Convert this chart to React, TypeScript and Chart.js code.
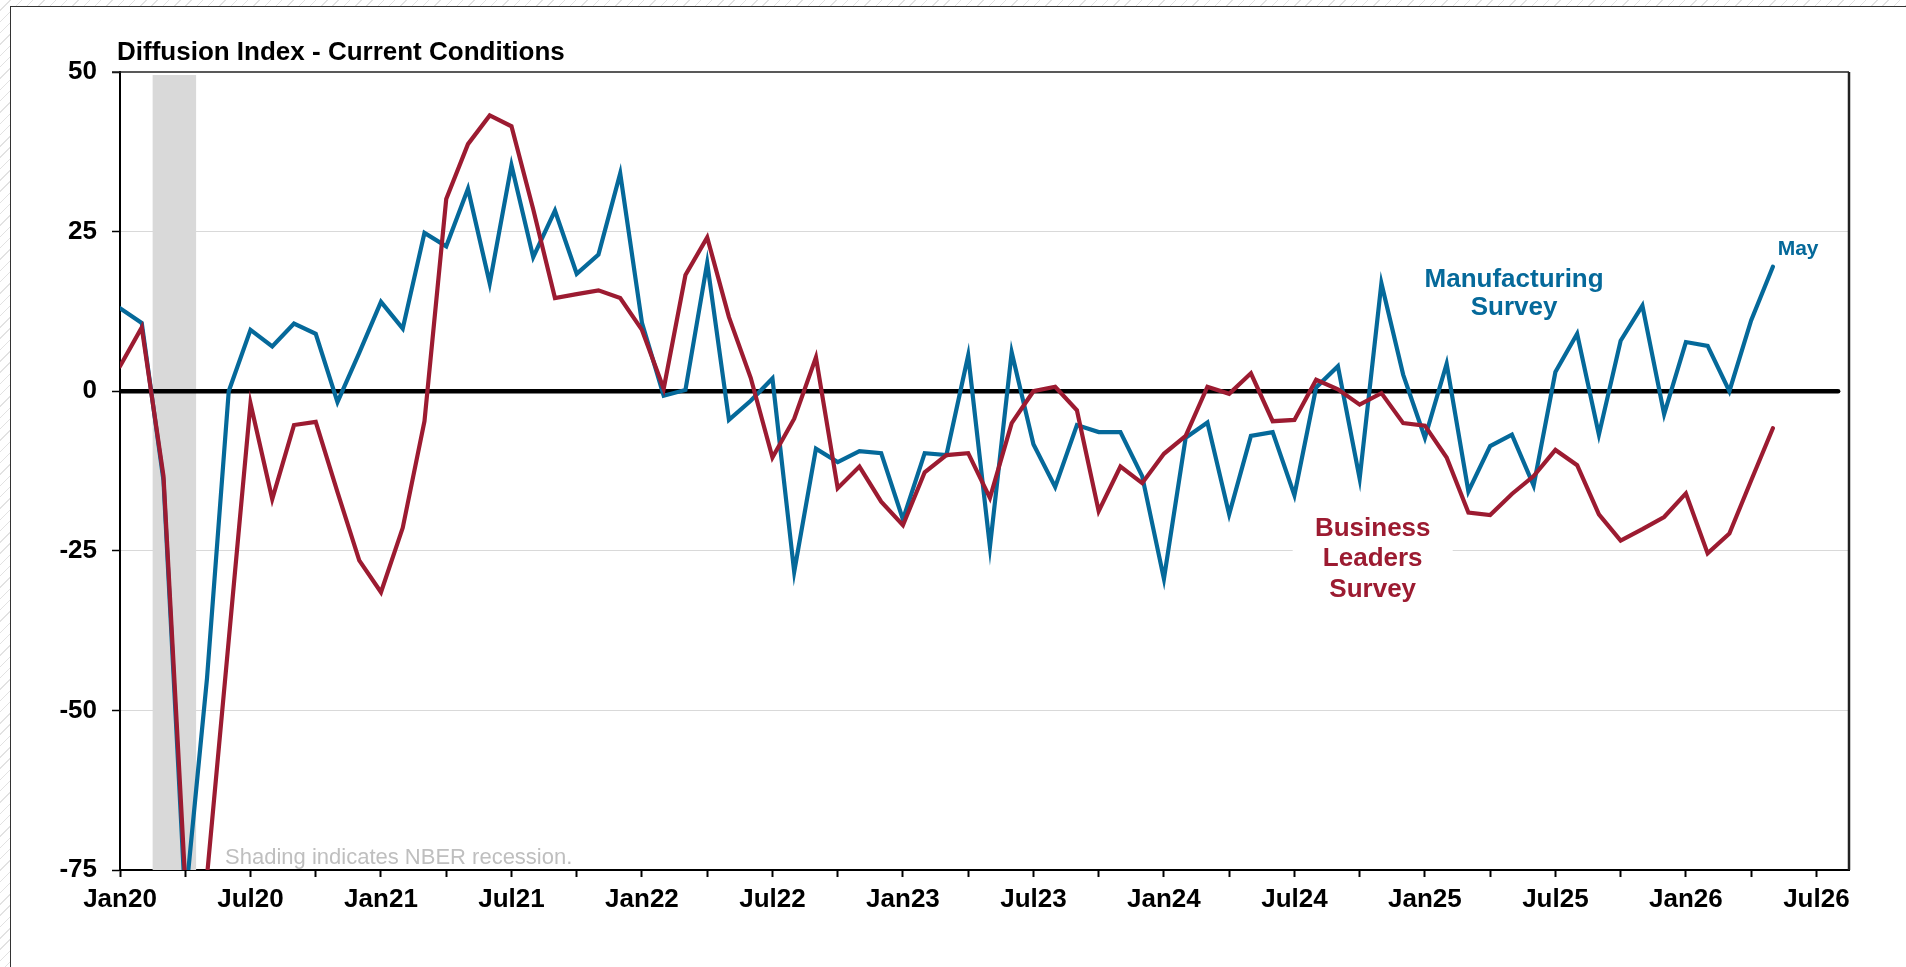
import React, { useEffect, useRef } from "react";
import { Chart, registerables } from "chart.js";

Chart.register(...registerables);

// ---------------- data ----------------
const months = [
  "Jan20", "Feb20", "Mar20", "Apr20", "May20", "Jun20", "Jul20", "Aug20", "Sep20", "Oct20", "Nov20", "Dec20",
  "Jan21", "Feb21", "Mar21", "Apr21", "May21", "Jun21", "Jul21", "Aug21", "Sep21", "Oct21", "Nov21", "Dec21",
  "Jan22", "Feb22", "Mar22", "Apr22", "May22", "Jun22", "Jul22", "Aug22", "Sep22", "Oct22", "Nov22", "Dec22",
  "Jan23", "Feb23", "Mar23", "Apr23", "May23", "Jun23", "Jul23", "Aug23", "Sep23", "Oct23", "Nov23", "Dec23",
  "Jan24", "Feb24", "Mar24", "Apr24", "May24", "Jun24", "Jul24", "Aug24", "Sep24", "Oct24", "Nov24", "Dec24",
  "Jan25", "Feb25", "Mar25", "Apr25", "May25", "Jun25", "Jul25", "Aug25", "Sep25", "Oct25", "Nov25", "Dec25",
  "Jan26", "Feb26", "Mar26", "Apr26", "May26",
];

const manufacturing = [
  13.0, 10.7, -14.0, -80.0, -45.0, 0.0, 9.6, 7.0, 10.6, 9.0, -1.7, 6.0,
  14.0, 9.8, 24.8, 22.7, 31.7, 16.9, 35.4, 21.0, 28.3, 18.4, 21.4, 34.1,
  10.7, -0.7, 0.2, 20.1, -4.5, -1.5, 2.0, -28.3, -9.0, -11.1, -9.4, -9.7,
  -20.1, -9.7, -10.0, 5.6, -24.4, 6.1, -8.3, -15.0, -5.3, -6.4, -6.4, -13.3,
  -29.4, -7.3, -4.9, -19.3, -7.0, -6.4, -16.3, 0.6, 3.9, -13.7, 16.9, 2.6,
  -7.3, 4.3, -15.7, -8.6, -6.8, -14.8, 3.0, 9.0, -6.8, 7.9, 13.4, -3.6,
  7.7, 7.1, 0.0, 11.1, 19.5,
];

const businessLeaders = [
  3.9, 10.0, -13.3, -77.0, -76.0, -39.0, -1.9, -16.9, -5.3, -4.8, -15.8, -26.5,
  -31.5, -21.4, -4.7, 30.1, 38.7, 43.2, 41.5, 28.5, 14.6, 15.2, 15.8, 14.6,
  9.6, 0.4, 18.2, 24.1, 11.6, 2.1, -10.4, -4.3, 5.3, -15.2, -11.8, -17.3,
  -21.0, -12.7, -10.0, -9.7, -16.7, -5.0, 0.0, 0.7, -3.0, -18.8, -11.8, -14.4,
  -9.8, -7.0, 0.7, -0.4, 2.8, -4.7, -4.5, 1.8, 0.3, -2.1, -0.3, -5.0,
  -5.4, -10.4, -19.0, -19.4, -16.1, -13.3, -9.2, -11.6, -19.3, -23.4, -21.6, -19.7,
  -16.0, -25.4, -22.3, -14.0, -5.8,
];

const xTickLabels = [
  "Jan20", "Jul20", "Jan21", "Jul21", "Jan22", "Jul22", "Jan23",
  "Jul23", "Jan24", "Jul24", "Jan25", "Jul25", "Jan26", "Jul26",
];
const yTickValues = [50, 25, 0, -25, -50, -75];
const yGridValues = [25, -25, -50];

// recession shading (month positions, Jan20 = 0)
const recessionStart = 1.5;
const recessionEnd = 3.5;
// zero reference line span (month positions)
const zeroLineSpan = [0, 79];
const xMin = 0;
const xMax = 79.5;

// ---------------- styles ----------------
const BLUE = "#05699A";
const RED = "#9C1B31";
const FONT = '"Liberation Sans", Arial, Helvetica, sans-serif';

type Note = { lines: string[]; x: number; y: number[]; color: string; size: number; weight: string };
const notes: Note[] = [
  { lines: ["May"], x: 77.16, y: [21.35], color: BLUE, size: 21, weight: "bold" },
  { lines: ["Manufacturing", "Survey"], x: 64.1, y: [16.3, 11.9], color: BLUE, size: 26, weight: "bold" },
  { lines: ["Business", "Leaders", "Survey"], x: 57.6, y: [-22.7, -27.4, -32.2], color: RED, size: 26, weight: "bold" },
];

export default function App() {
  const ref = useRef<HTMLCanvasElement | null>(null);

  useEffect(() => {
    const canvas = ref.current;
    if (!canvas) return;

    const decor = {
      id: "decor",
      beforeDatasetsDraw(chart: any) {
        const { ctx, chartArea, scales } = chart;
        const xs = scales.x;
        const ys = scales.y;
        ctx.save();
        // recession band
        ctx.fillStyle = "#D9D9D9";
        const bx1 = xs.getPixelForValue(recessionStart);
        const bx2 = xs.getPixelForValue(recessionEnd);
        ctx.fillRect(bx1, chartArea.top + 3, bx2 - bx1, chartArea.bottom - chartArea.top - 3);
        // white box behind Business Leaders label
        const bl = notes[2];
        const cx = xs.getPixelForValue(bl.x);
        const y1 = ys.getPixelForValue(bl.y[0]) - 28;
        const y2 = ys.getPixelForValue(bl.y[bl.y.length - 1]) + 10;
        ctx.fillStyle = "#FFFFFF";
        ctx.fillRect(cx - 80, y1, 160, y2 - y1);
        ctx.restore();
      },
      afterDatasetsDraw(chart: any) {
        const { ctx, scales, chartArea } = chart;
        const xs = scales.x;
        const ys = scales.y;
        ctx.save();
        ctx.textAlign = "center";
        ctx.textBaseline = "alphabetic";
        for (const n of notes) {
          ctx.font = `${n.weight} ${n.size}px ${FONT}`;
          ctx.fillStyle = n.color;
          const px = xs.getPixelForValue(n.x);
          n.lines.forEach((t, i) => ctx.fillText(t, px, ys.getPixelForValue(n.y[i])));
        }
        // shading note
        ctx.textAlign = "left";
        ctx.font = `22px ${FONT}`;
        ctx.fillStyle = "#BFBFBF";
        ctx.fillText("Shading indicates NBER recession.", xs.getPixelForValue(4.83), chartArea.bottom - 6);
        ctx.restore();
      },
      afterDraw(chart: any) {
        const { ctx, chartArea } = chart;
        ctx.save();
        // top and right borders of plot area
        ctx.strokeStyle = "#222";
        ctx.lineWidth = 1.5;
        ctx.beginPath();
        ctx.moveTo(chartArea.left - 8, chartArea.top);
        ctx.lineTo(chartArea.right, chartArea.top);
        ctx.stroke();
        ctx.lineWidth = 2.5;
        ctx.beginPath();
        ctx.moveTo(chartArea.right, chartArea.top);
        ctx.lineTo(chartArea.right, chartArea.bottom);
        ctx.stroke();
        // title
        ctx.fillStyle = "#000";
        ctx.font = `bold 26px ${FONT}`;
        ctx.textAlign = "left";
        ctx.textBaseline = "alphabetic";
        ctx.fillText("Diffusion Index - Current Conditions", 117, 60);
        ctx.restore();
      },
    };

    const chart = new Chart(canvas, {
      type: "line",
      data: {
        datasets: [
          {
            label: "Business Leaders Survey",
            data: businessLeaders.map((v, i) => ({ x: i, y: v })),
            borderColor: RED,
            borderWidth: 4.2,
            pointRadius: 0,
            borderCapStyle: "round",
            tension: 0,
            order: 1,
          },
          {
            label: "Manufacturing Survey",
            data: manufacturing.map((v, i) => ({ x: i, y: v })),
            borderColor: BLUE,
            borderWidth: 4.2,
            pointRadius: 0,
            borderCapStyle: "round",
            tension: 0,
            order: 2,
          },
          {
            label: "zero",
            data: zeroLineSpan.map((x) => ({ x, y: 0 })),
            borderColor: "#000",
            borderWidth: 4.5,
            pointRadius: 0,
            borderCapStyle: "round",
            order: 3,
          },
        ],
      },
      options: {
        responsive: false,
        animation: false,
        devicePixelRatio: 1,
        layout: { padding: { left: 0, top: 72, right: 57, bottom: 47 } },
        plugins: { legend: { display: false }, tooltip: { enabled: false } },
        scales: {
          x: {
            type: "linear",
            min: xMin,
            max: xMax,
            afterBuildTicks: (s: any) => {
              s.ticks = xTickLabels
                .flatMap((_, i) => [i * 6, i * 6 + 3])
                .filter((v) => v <= 78)
                .map((v) => ({ value: v }));
            },
            afterFit: (s: any) => {
              s.height = 50;
            },
            ticks: {
              autoSkip: false,
              maxRotation: 0,
              minRotation: 0,
              padding: 7,
              color: "#000",
              font: { family: FONT, size: 26, weight: "bold" },
              callback: (v: any) => (Number(v) % 6 === 0 ? xTickLabels[Number(v) / 6] : ""),
            },
            grid: {
              drawOnChartArea: false,
              drawTicks: true,
              tickLength: 7,
              tickColor: "#000",
              tickWidth: 2,
            },
            border: { display: true, color: "#000", width: 2 },
          },
          y: {
            type: "linear",
            min: -75,
            max: 50,
            afterBuildTicks: (s: any) => {
              s.ticks = yTickValues.map((v) => ({ value: v }));
            },
            afterFit: (s: any) => {
              s.width = 120;
            },
            ticks: {
              padding: 15,
              color: "#000",
              font: { family: FONT, size: 26, weight: "bold" },
              callback: (v: any) => String(v),
            },
            grid: {
              color: (c: any) => (c.tick && yGridValues.includes(c.tick.value) ? "#D9D9D9" : "rgba(0,0,0,0)"),
              lineWidth: 1,
              drawTicks: true,
              tickLength: 8,
              tickColor: "#000",
              tickWidth: 1.5,
            },
            border: { display: true, color: "#000", width: 2 },
          },
        },
      },
      plugins: [decor],
    } as any);

    return () => chart.destroy();
  }, []);

  return (
    <div
      style={{
        position: "fixed",
        left: 0,
        top: 0,
        width: 1906,
        height: 967,
        overflow: "hidden",
        background: "repeating-linear-gradient(135deg, #ffffff 0px, #ffffff 7px, #e2e2e2 7px, #e2e2e2 8px)",
      }}
    >
      <div
        style={{
          position: "absolute",
          left: 10,
          top: 6,
          width: 2000,
          height: 1100,
          background: "#fff",
          border: "1.5px solid #333",
        }}
      />
      <canvas
        ref={ref}
        width={1906}
        height={967}
        style={{ position: "absolute", left: 0, top: 0, width: 1906, height: 967 }}
      />
    </div>
  );
}
